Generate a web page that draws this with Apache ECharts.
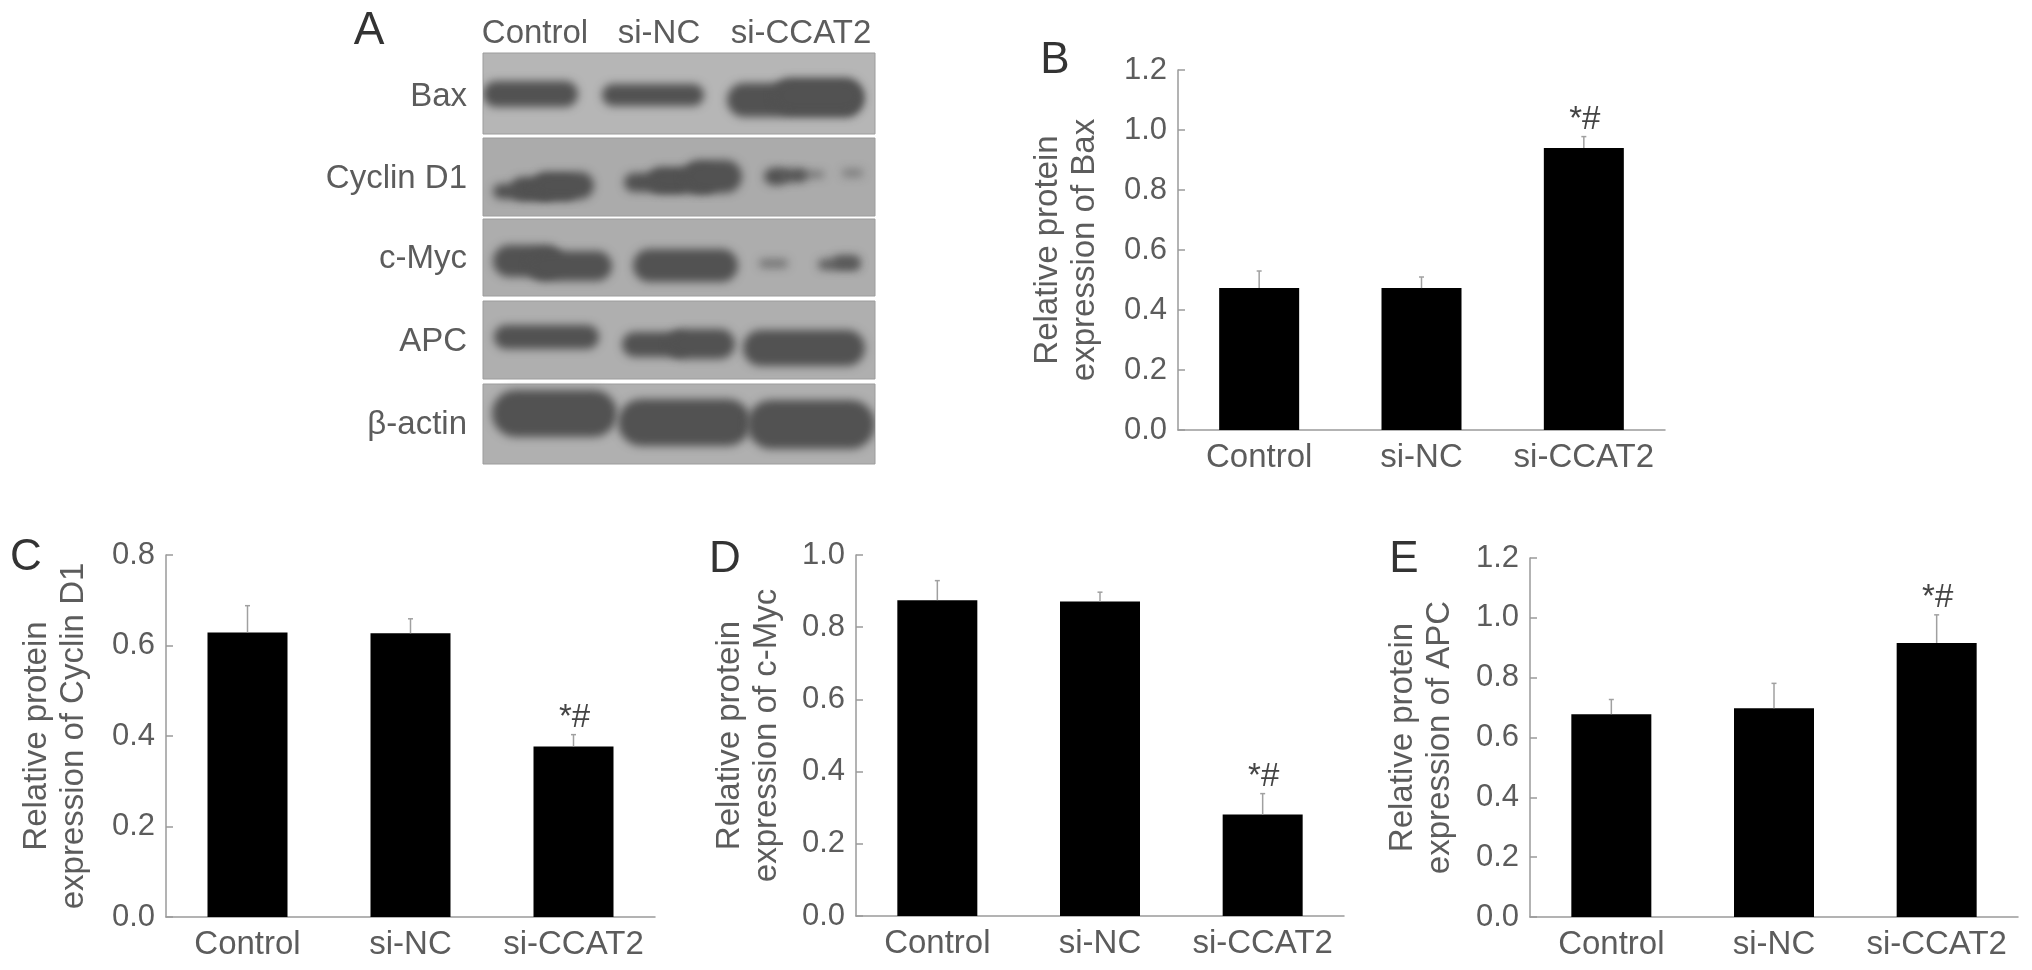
<!DOCTYPE html>
<html lang="en">

<head>
    <meta charset="UTF-8">
    <title>si-CCAT2 protein expression</title>
    <style>
        * {
            margin: 0;
            padding: 0;
        }

        body {
            background: #fff;
        }

        .mychart {
            width: 2032px;
            height: 970px;
        }
    </style>
</head>

<body>
    <div class="mychart"></div>
</body>
<script src="https://cdn.jsdelivr.net/npm/echarts@6/dist/echarts.min.js"></script>
<script>
    const categories = ['Control', 'si-NC', 'si-CCAT2']
    const significance = ['', '', '*#']

    // bar height and top of the error whisker
    const baxValues = [0.473, 0.473, 0.94]
    const baxErrors = [0.53, 0.51, 0.978]
    const cyclinValues = [0.629, 0.627, 0.377]
    const cyclinErrors = [0.688, 0.659, 0.403]
    const mycValues = [0.875, 0.871, 0.281]
    const mycErrors = [0.929, 0.897, 0.339]
    const apcValues = [0.678, 0.698, 0.916]
    const apcErrors = [0.727, 0.781, 1.01]

    // blot rows: name, top, bottom, grey of the membrane
    const blotRows = [
        ['Bax', 0, 81, '#b6b6b6'],
        ['Cyclin D1', 85, 163, '#ababab'],
        ['c-Myc', 166, 243, '#adadad'],
        ['APC', 248, 326, '#afafaf'],
        ['β-actin', 331, 411, '#b0b0b0']
    ]
    // blot band pieces: x1, x2, y1, y2, darkness 0-1
    const blotBands = [
        // Bax
        [0, 95, 28, 54, 1], [119, 221, 31, 53, 1], [244, 380, 30, 64, 1], [290, 380, 25, 60, 1],
        // Cyclin D1
        [10, 70, 131, 146, 1], [28, 95, 124, 147, 1], [50, 111, 119, 146, 1],
        [141, 205, 120, 139, 1], [165, 235, 114, 140, 1], [200, 259, 107, 140, 1],
        [281, 304, 115, 132, 1], [295, 324, 116, 129, 0.95], [312, 341, 118, 125, 0.6], [359, 380, 116, 124, 0.5],
        // c-Myc
        [10, 80, 192, 224, 1], [45, 129, 198, 228, 1], [150, 255, 196, 229, 1],
        [276, 305, 206, 215, 0.6], [335, 377, 206, 217, 0.85], [350, 377, 202, 215, 0.75],
        // APC
        [11, 116, 272, 296, 1], [139, 205, 279, 304, 1], [185, 252, 276, 306, 1], [260, 382, 277, 313, 1],
        // beta-actin
        [9, 134, 337, 384, 1], [135, 268, 346, 393, 1], [264, 392, 347, 396, 1]
    ]

    const textColor = '#5c5c5c'
    const axisColor = '#9a9a9a'
    const fontFamily = '"Liberation Sans", Arial, sans-serif'

    const panels = [
        { name: 'Relative protein\nexpression of Bax', max: 1.2, interval: 0.2, values: baxValues, errors: baxErrors, left: 1178, right: 1665, top: 70, bottom: 430, gap: 75 },
        { name: 'Relative protein\nexpression of Cyclin D1', max: 0.8, interval: 0.2, values: cyclinValues, errors: cyclinErrors, left: 166, right: 655, top: 555, bottom: 917, gap: 74 },
        { name: 'Relative protein\nexpression of c-Myc', max: 1, interval: 0.2, values: mycValues, errors: mycErrors, left: 856, right: 1344, top: 555, bottom: 916, gap: 71 },
        { name: 'Relative protein\nexpression of APC', max: 1.2, interval: 0.2, values: apcValues, errors: apcErrors, left: 1530, right: 2018, top: 558, bottom: 917, gap: 72 }
    ]

    const myChart = echarts.init(document.querySelector('.mychart'))

    const grid = panels.map(p => ({
        left: p.left,
        top: p.top,
        width: p.right - p.left,
        height: p.bottom - p.top,
        outerBoundsMode: 'none'
    }))
    // last grid holds the blot, its axes are in blot units
    grid.push({ left: 483, top: 53, width: 392, height: 411, outerBoundsMode: 'none' })

    const xAxis = panels.map((p, i) => ({
        type: 'category',
        gridIndex: i,
        data: categories,
        axisLine: { lineStyle: { color: axisColor, width: 1.5 } },
        axisTick: { show: false },
        axisLabel: { color: textColor, fontSize: 33, fontFamily: fontFamily, margin: 11, interval: 0 }
    }))
    xAxis.push({ type: 'value', gridIndex: 4, min: 0, max: 392, show: false })

    const yAxis = panels.map((p, i) => ({
        type: 'value',
        gridIndex: i,
        min: 0,
        max: p.max,
        interval: p.interval,
        name: p.name,
        nameLocation: 'middle',
        nameGap: p.gap,
        nameRotate: 90,
        nameTextStyle: { color: textColor, fontSize: 33, fontFamily: fontFamily, lineHeight: 37 },
        splitLine: { show: false },
        axisLine: { show: true, lineStyle: { color: axisColor, width: 1.5 } },
        axisTick: { show: true, inside: true, length: 7, lineStyle: { color: axisColor, width: 1.5 } },
        axisLabel: { color: textColor, fontSize: 31, fontFamily: fontFamily, margin: 11, formatter: v => v.toFixed(1) }
    }))
    yAxis.push({ type: 'value', gridIndex: 4, min: 0, max: 411, inverse: true, show: false })

    // whisker goes up only, with a small cap and the *# mark above it
    function renderError(params, api) {
        const i = api.value(0)
        const base = api.coord([i, api.value(1)])
        const top = api.coord([i, api.value(2)])
        const children = [
            { type: 'line', shape: { x1: base[0], y1: base[1], x2: top[0], y2: top[1] }, style: { stroke: '#a0a0a0', lineWidth: 1.5 } },
            { type: 'line', shape: { x1: top[0] - 2.5, y1: top[1], x2: top[0] + 2.5, y2: top[1] }, style: { stroke: '#a0a0a0', lineWidth: 1.5 } }
        ]
        if (significance[i]) {
            children.push({
                type: 'text',
                x: top[0] + 1,
                y: top[1] - 17,
                style: { text: significance[i], fill: '#444', font: '33px ' + fontFamily, textAlign: 'center', textVerticalAlign: 'middle' }
            })
        }
        return { type: 'group', children: children }
    }

    function renderBlotRow(params, api) {
        const a = api.coord([0, api.value(0)])
        const b = api.coord([392, api.value(1)])
        return {
            type: 'rect',
            shape: { x: a[0], y: a[1], width: b[0] - a[0], height: b[1] - a[1] },
            style: { fill: blotRows[params.dataIndex][3], stroke: '#9c9c9c', lineWidth: 1 }
        }
    }

    // only the shadow of the piece is seen, the shape itself sits off the canvas
    // so the band gets the soft edge of the film
    const shadowShift = 3000
    function renderBlotBand(params, api) {
        const a = api.coord([api.value(0), api.value(2)])
        const b = api.coord([api.value(1), api.value(3)])
        const h = b[1] - a[1]
        return {
            type: 'rect',
            shape: { x: a[0] - shadowShift, y: a[1], width: b[0] - a[0], height: h, r: h / 2 },
            style: {
                fill: '#000',
                shadowBlur: 9,
                shadowOffsetX: shadowShift,
                shadowColor: 'rgba(82,82,82,' + api.value(4) + ')'
            }
        }
    }

    const series = []
    panels.forEach((p, i) => {
        series.push({
            type: 'bar',
            xAxisIndex: i,
            yAxisIndex: i,
            data: p.values,
            barWidth: 80,
            itemStyle: { color: '#000' },
            silent: true
        })
        series.push({
            type: 'custom',
            xAxisIndex: i,
            yAxisIndex: i,
            data: p.values.map((v, k) => [k, v, p.errors[k]]),
            renderItem: renderError,
            silent: true,
            clip: false,
            z: 3
        })
    })
    series.push({
        type: 'custom',
        xAxisIndex: 4,
        yAxisIndex: 4,
        data: blotRows.map(r => [r[1], r[2]]),
        encode: { x: -1, y: [0, 1] },
        renderItem: renderBlotRow,
        silent: true,
        clip: false,
        z: 1
    })
    series.push({
        type: 'custom',
        xAxisIndex: 4,
        yAxisIndex: 4,
        data: blotBands,
        encode: { x: [0, 1], y: [2, 3] },
        renderItem: renderBlotBand,
        silent: true,
        clip: true,
        z: 2
    })

    function label(text, x, y, size, align, color) {
        return {
            type: 'text',
            x: x,
            y: y,
            style: { text: text, fill: color, font: size + 'px ' + fontFamily, textAlign: align, textVerticalAlign: 'middle' }
        }
    }

    const graphic = [
        label('A', 369, 31, 46, 'center', '#333'),
        label('B', 1055, 61, 44, 'center', '#333'),
        label('C', 26, 558, 44, 'center', '#333'),
        label('D', 725, 560, 44, 'center', '#333'),
        label('E', 1404, 560, 44, 'center', '#333'),
        label(categories[0], 535, 34, 33, 'center', textColor),
        label(categories[1], 659, 34, 33, 'center', textColor),
        label(categories[2], 801, 34, 33, 'center', textColor)
    ]
    const rowLabelY = [97, 179, 259, 342, 425]
    blotRows.forEach((r, i) => {
        graphic.push(label(r[0], 467, rowLabelY[i], 33, 'right', textColor))
    })

    const config = {
        animation: false,
        backgroundColor: '#fff',
        grid: grid,
        xAxis: xAxis,
        yAxis: yAxis,
        series: series,
        graphic: graphic
    }

    myChart.setOption(config)
</script>

</html>
